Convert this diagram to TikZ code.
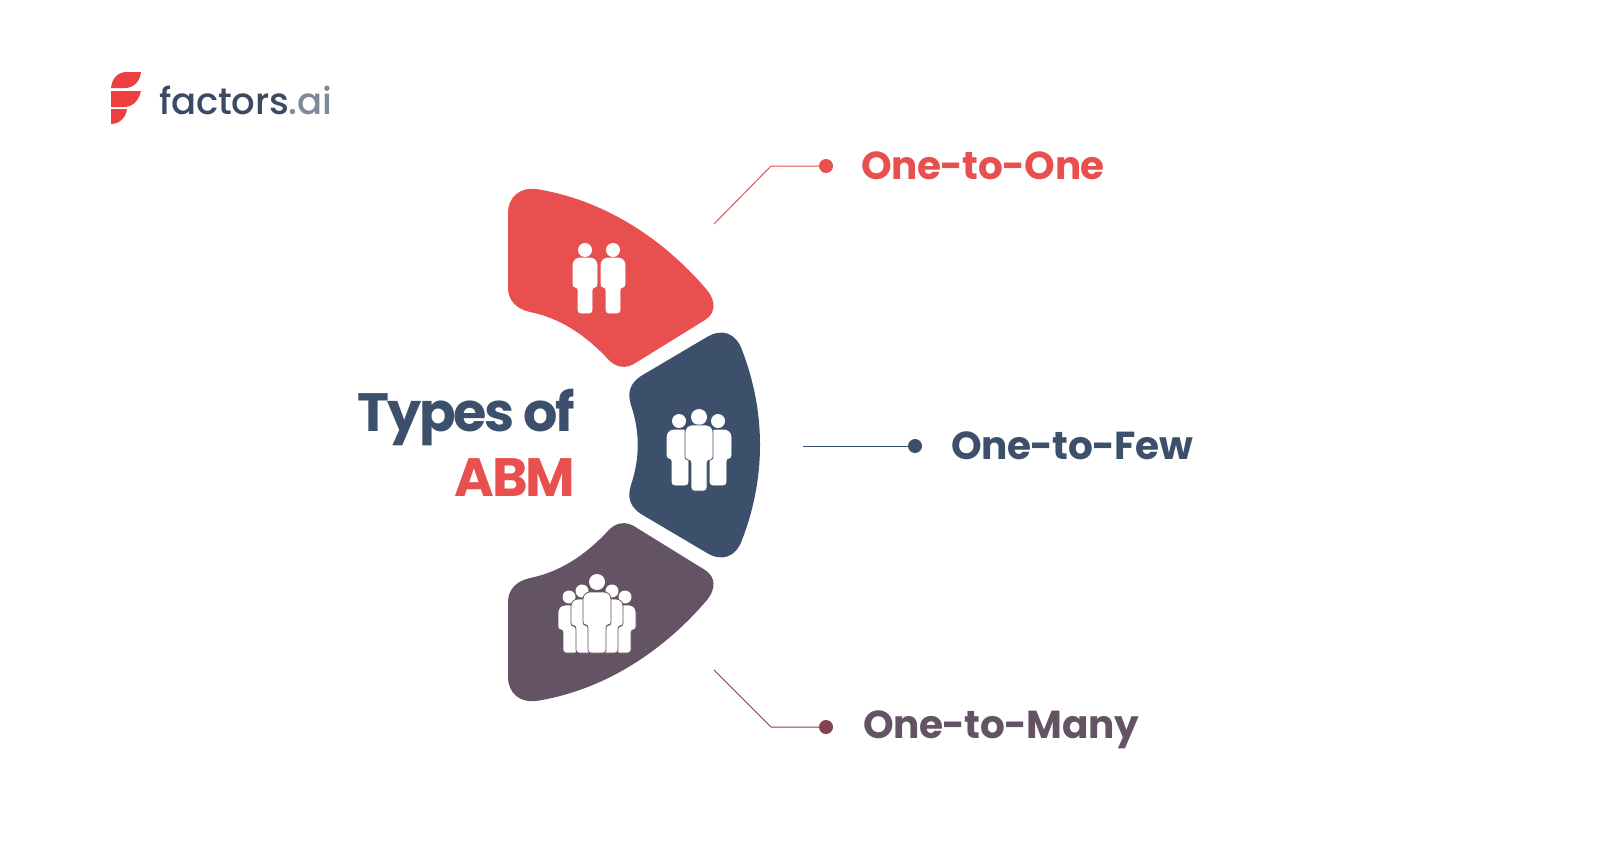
\documentclass[tikz,border=0pt]{standalone}
\usepackage{fontspec}
\setmainfont{Poppins}
\newfontfamily\logofont[UprightFont=* Medium]{Poppins}
\definecolor{redc}{HTML}{E84F4F}
\definecolor{bluec}{HTML}{3D506B}
\definecolor{purc}{HTML}{635364}
\definecolor{logod}{HTML}{3A4A63}
\definecolor{logog}{HTML}{7F8A99}
\newcommand{\ppl}[8][white]{\path[fill=white,draw=#1,line width=.8pt] (#2,#5) [rounded corners=7pt] -- (#2,#4) -- (#3,#4) [rounded corners=3pt] -- (#3,#5) -- (#7,#5) -- (#7,#8) -- (#6,#8) -- (#6,#5) -- cycle;}
\tikzset{
  lbl/.style={font=\bfseries\fontsize{39}{39}\selectfont\addfontfeature{LetterSpace=-1.2},anchor=west,inner sep=0pt},
  ttl/.style={font=\bfseries\fontsize{54}{54}\selectfont\addfontfeature{LetterSpace=-4.5},anchor=east,inner sep=0pt},
  dotnode/.style={circle,inner sep=0pt,minimum size=14pt},
  conn/.style={line width=1pt}
}
\begin{document}
\begin{tikzpicture}[x=1pt,y=-1pt]
\useasboundingbox (0,0) rectangle (1600,843);
\fill[white] (0,0) rectangle (1600,843);
% logo
\fill[redc!80!red] (111,88) .. controls (112,78) and (118,72) .. (127,72) -- (141,72) .. controls (140,83) and (132,88) .. (125,88) -- cycle;
\fill[redc!80!red] (111,91) -- (141,91) .. controls (139,101) and (132,107) .. (124,107) -- (111,107) -- cycle;
\fill[redc!80!red] (111,109) -- (127,109) .. controls (126,118) and (119,124) .. (111,124) -- cycle;
\node[anchor=base west,inner sep=0pt,font=\logofont\fontsize{37}{37}\selectfont\addfontfeature{LetterSpace=-0.5}] (logo) at (159,114) {\textcolor{logod}{factors}\textcolor{logog}{.ai}};
% blobs
\fill[redc] (508,213) .. controls (508,197) and (520,187) .. (536,189) .. controls (600,199) and (660,235) .. (707,290) .. controls (716,301) and (716,313) .. (705,320) -- (637,362) .. controls (626,370) and (615,368) .. (606,357) .. controls (585,335) and (560,318) .. (530,312) .. controls (516,309) and (508,300) .. (508,288) -- cycle;
\fill[bluec] (707,337) .. controls (722,328) and (736,333) .. (742,350) .. controls (766,412) and (766,478) .. (742,540) .. controls (736,557) and (722,562) .. (707,553) -- (641,514) .. controls (630,507) and (627,497) .. (631,485) .. controls (640,458) and (640,432) .. (631,405) .. controls (627,393) and (630,383) .. (641,376) -- cycle;
\fill[purc] (508,677) .. controls (508,693) and (520,703) .. (536,701) .. controls (600,691) and (660,655) .. (707,600) .. controls (716,589) and (716,577) .. (705,570) -- (637,528) .. controls (626,520) and (615,522) .. (606,533) .. controls (585,555) and (560,572) .. (530,578) .. controls (516,581) and (508,590) .. (508,602) -- cycle;
% red icon
\fill[white] (585,250) circle (7) (613,250) circle (7);
\ppl{573}{597}{258}{287}{578}{592}{313}
\ppl{601}{625}{258}{287}{606}{620}{313}
% blue icon
\fill[white] (679,421) circle (7) (699,417) circle (8) (718,421) circle (7);
\ppl{667}{690}{430}{458}{672}{688}{485}
\ppl{708}{731}{430}{458}{710}{726}{485}
\ppl[bluec]{685}{713}{425}{460}{691}{707}{491}
% purple icon
\fill[white] (569,597) circle (6.5) (625,597) circle (6.5) (582,591) circle (6.5) (612,591) circle (6.5) (597,582) circle (8);
\ppl[purc]{558}{578}{605}{630}{563}{578}{653}
\ppl[purc]{616}{636}{605}{630}{616}{631}{653}
\ppl[purc]{571}{590}{599}{626}{576}{592}{653}
\ppl[purc]{604}{623}{599}{626}{602}{618}{653}
\ppl[purc]{583}{611}{592}{625}{588}{606}{653}
% title
\node[ttl,text=bluec] (types) at (575,418) {Types of};
\node[ttl,text=redc] (abm) at (575,478) {ABM};
% connectors
\node[dotnode,fill=redc] (d1) at (826,166) {};
\node[dotnode,fill=bluec] (d2) at (915,446) {};
\node[dotnode,fill=purc!80!red] (d3) at (826,727) {};
\coordinate (s1) at (714,224);
\coordinate (k1) at (771,166);
\coordinate (s2) at (803,446);
\coordinate (s3) at (714,670);
\coordinate (k3) at (771,727);
\draw[conn,draw=redc] (s1) -- (k1) -- (d1);
\draw[conn,draw=bluec] (s2) -- (d2);
\draw[conn,draw=purc!80!red] (s3) -- (k3) -- (d3);
\node[lbl,text=redc] (l1) at (861,166) {One-to-One};
\node[lbl,text=bluec] (l2) at (951,446) {One-to-Few};
\node[lbl,text=purc] (l3) at (863,730) {One-to-Many};
\end{tikzpicture}
\end{document}
